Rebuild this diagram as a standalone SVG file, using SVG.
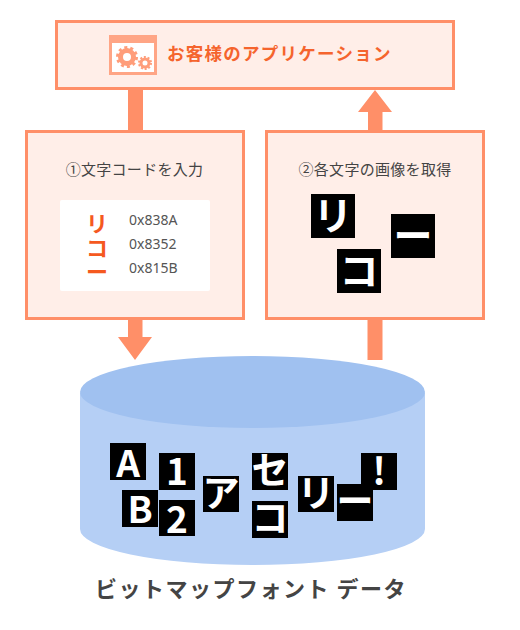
<svg xmlns="http://www.w3.org/2000/svg" width="520" height="630" viewBox="0 0 520 630">
<style>
text{font-family:"Noto Sans CJK JP","Noto Sans",sans-serif}
.box{fill:#ffeee8;stroke:#ff8f68;stroke-width:3}
.arr{fill:#ff8f68}
.lbl{font-size:15px;fill:#444;text-anchor:middle;letter-spacing:.3px}
.code{font-family:"Noto Sans",sans-serif;font-size:14px;fill:#555}
.kana{font-size:22px;fill:#f5591f;font-weight:700;text-anchor:middle}
.k{fill:#000}
.b{font-size:39px;fill:#fff;font-weight:700;text-anchor:middle}
.s{font-size:37px;fill:#fff;font-weight:700;text-anchor:middle}
.gear{fill:none;stroke:#ff9d7a}
</style>
<g id="connectors">
<rect class="arr" x="128" y="90" width="15" height="40"/>
<path class="arr" d="M368 130V112H358L375 90L392 112H382.500V130Z"/>
<path class="arr" d="M128 320H142.500V337H152L135 360L118 337H128Z"/>
<rect class="arr" x="367.500" y="320" width="15" height="40"/>
</g>
<g id="app">
<rect class="box" x="56.500" y="21.500" width="397" height="67"/>
<rect x="109" y="35" width="48" height="40" fill="#ffa585"/>
<rect x="112" y="43" width="42" height="29" fill="#fff"/>
<circle class="gear" cx="127" cy="57" r="6.500" stroke-width="5"/>
<circle class="gear" cx="127" cy="57" r="9.500" stroke-width="3" stroke-dasharray="3 2.970"/>
<circle class="gear" cx="145" cy="63" r="4" stroke-width="3"/>
<circle class="gear" cx="145" cy="63" r="6" stroke-width="2" stroke-dasharray="2 1.770"/>
<text x="167" y="60" font-size="17.500" font-weight="700" fill="#f5642d" letter-spacing="1.250">お客様のアプリケーション</text>
</g>
<g id="input">
<rect class="box" x="26.500" y="131.500" width="217" height="187"/>
<text class="lbl" x="134.500" y="175">①文字コードを入力</text>
<rect x="60" y="200" width="150" height="91" rx="2" fill="#fff"/>
<text class="kana"><tspan x="97" y="232">リ</tspan><tspan x="97" y="256">コ</tspan><tspan x="97" y="280">ー</tspan></text>
<text class="code" x="129" y="225">0x838A</text>
<text class="code" x="129" y="249">0x8352</text>
<text class="code" x="129" y="273">0x815B</text>
</g>
<g id="fetch">
<rect class="box" x="266.500" y="131.500" width="217" height="187"/>
<text class="lbl" x="375" y="175">②各文字の画像を取得</text>
<rect class="k" x="311" y="194" width="44" height="44"/>
<text class="b" x="333" y="230">リ</text>
<rect class="k" x="337" y="249" width="44" height="44"/>
<text class="b" x="359" y="285">コ</text>
<rect class="k" x="391" y="214" width="44" height="44"/>
<text class="b" x="413" y="250">ー</text>
</g>
<g id="db">
<path d="M80 393V529A172.500 36 0 0 0 425 529V393Z" fill="#b5cff5"/>
<ellipse cx="252.500" cy="392" rx="172.500" ry="36" fill="#a0c1f0"/>
<rect class="k" x="110" y="443" width="36" height="37"/><text class="s" x="128" y="477">A</text>
<rect class="k" x="159" y="453" width="36" height="37"/><text class="s" x="177" y="485">1</text>
<rect class="k" x="122" y="490" width="36" height="37"/><text class="s" x="140" y="523">B</text>
<rect class="k" x="159" y="500" width="36" height="36"/><text class="s" x="177" y="533">2</text>
<rect class="k" x="203" y="476" width="36" height="36"/><text class="s" x="221" y="507">ア</text>
<rect class="k" x="252" y="453" width="36" height="37"/><text class="s" x="270" y="484">セ</text>
<rect class="k" x="252" y="501" width="36" height="37"/><text class="s" x="270" y="532">コ</text>
<rect class="k" x="298" y="476" width="36" height="36"/><text class="s" x="316" y="507">リ</text>
<rect class="k" x="361" y="453" width="36" height="37"/><text class="s" x="379" y="485">!</text>
<rect class="k" x="337" y="484" width="36" height="37"/><text class="s" x="355" y="515">ー</text>
<text x="251" y="597" font-size="22" font-weight="700" fill="#444" text-anchor="middle" letter-spacing="1.500">ビットマップフォント データ</text>
</g>
</svg>
